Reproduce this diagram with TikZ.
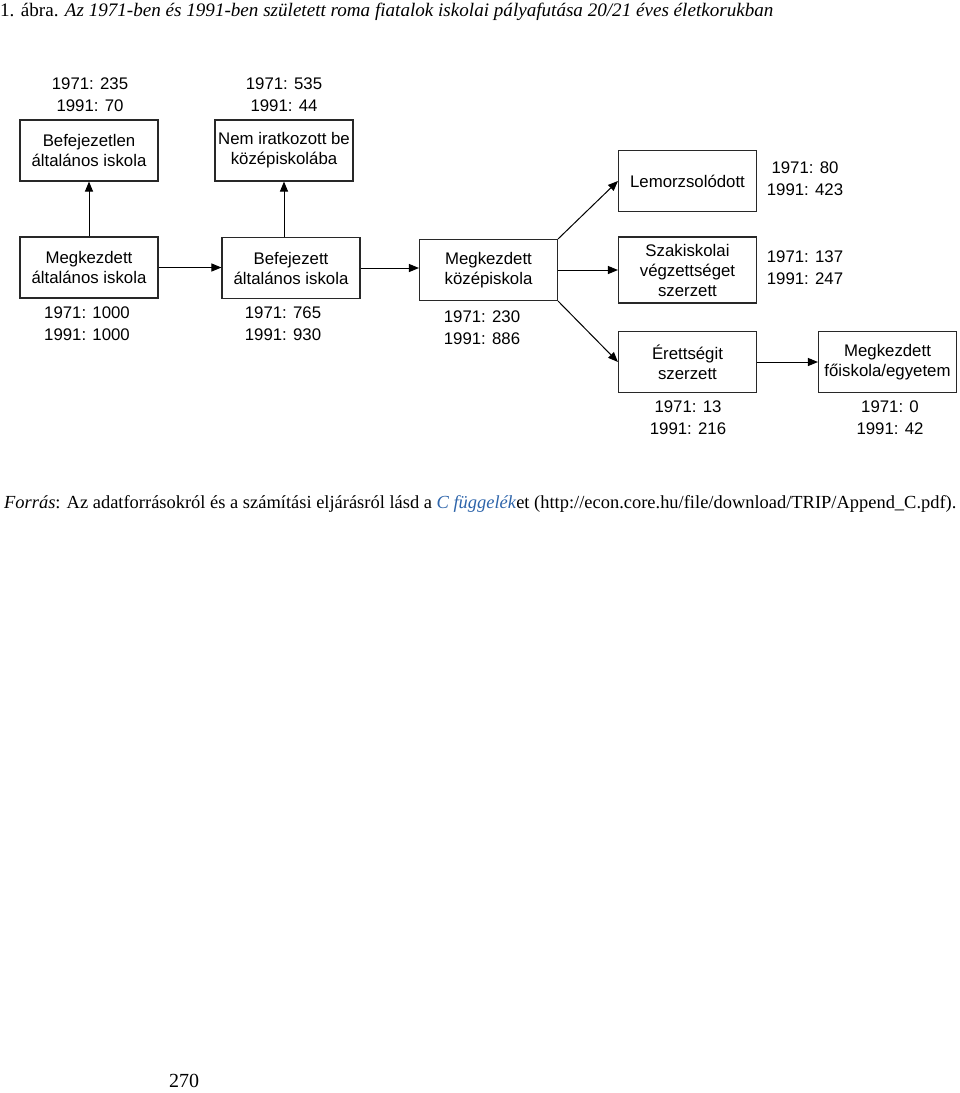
\documentclass[tikz,border=0pt]{standalone}
\usepackage{fontspec}
\setmainfont{Liberation Serif}
\newfontfamily\arialf{Liberation Sans}
\usetikzlibrary{arrows.meta}
\definecolor{linkblue}{RGB}{45,100,170}
\definecolor{boxline}{RGB}{40,40,40}
\begin{document}
\begin{tikzpicture}[x=1pt,y=-1pt,
  box/.style={draw=boxline, line width=1.1pt, minimum width=138pt, minimum height=61pt,
    align=center, font=\arialf\fontsize{16.8}{20}\selectfont, inner sep=0pt},
  num/.style={align=center, font=\arialf\fontsize{16.8}{22}\selectfont, inner sep=0pt},
  arr/.style={-{Triangle[length=10pt,width=8pt]}, line width=1pt},
  serif/.style={inner sep=0pt, font=\fontsize{18}{20}\selectfont}]
\useasboundingbox (0,0) rectangle (960,1093);

\node[serif, font=\fontsize{19.1}{21}\selectfont, anchor=west] (title) at (0,12) {1. ábra. \textit{Az 1971-ben és 1991-ben született roma fiatalok iskolai pályafutása 20/21 éves életkorukban}};

\node[box] (B1) at (89,150.5) {Befejezetlen\\általános iskola};
\node[box] (B2) at (284,150.5) {Nem iratkozott be\\középiskolába};
\node[box] (M1) at (89,267.5) {Megkezdett\\általános iskola};
\node[box] (M2) at (291,268) {Befejezett\\általános iskola};
\node[box] (M3) at (488.5,270) {Megkezdett\\középiskola};
\node[box] (L) at (687.5,181) {Lemorzsolódott};
\node[box, minimum height=66pt] (S) at (687.5,270) {Szakiskolai\\végzettséget\\szerzett};
\node[box] (E) at (687.5,362) {Érettségit\\szerzett};
\node[box] (F) at (887.5,362) {Megkezdett\\főiskola/egyetem};

\node[num] (nB1) at (90,95) {1971: 235\\1991: 70};
\node[num] (nB2) at (284,95) {1971: 535\\1991: 44};
\node[num] (nM1) at (87,323.5) {1971: 1000\\1991: 1000};
\node[num] (nM2) at (283,323.5) {1971: 765\\1991: 930};
\node[num] (nM3) at (482,328) {1971: 230\\1991: 886};
\node[num] (nL) at (805,178.5) {1971: 80\\1991: 423};
\node[num] (nS) at (805,268) {1971: 137\\1991: 247};
\node[num] (nE) at (688,418) {1971: 13\\1991: 216};
\node[num] (nF) at (890,418) {1971: 0\\1991: 42};

\draw[arr] (M1.north) -- (B1.south);
\draw[arr] (B2.south |- M2.north) -- (B2.south);
\draw[arr] (M1.east) -- (M1.east -| M2.west);
\draw[arr] (M2.east) -- (M2.east -| M3.west);
\draw[arr] (M3.north east) -- (L.west);
\draw[arr] (M3.east) -- (S.west);
\draw[arr] (M3.south east) -- (E.west);
\draw[arr] (E.east) -- (F.west);

\node[serif, font=\fontsize{18.45}{20}\selectfont, anchor=west] (src) at (4,504) {\textit{Forrás}: Az adatforrásokról és a számítási eljárásról lásd a \textcolor{linkblue}{\textit{C függelék}}et (http://econ.core.hu/file/download/TRIP/Append\_C.pdf).};

\node[serif, font=\fontsize{20}{22}\selectfont] (page) at (184,1081) {270};
\end{tikzpicture}
\end{document}
